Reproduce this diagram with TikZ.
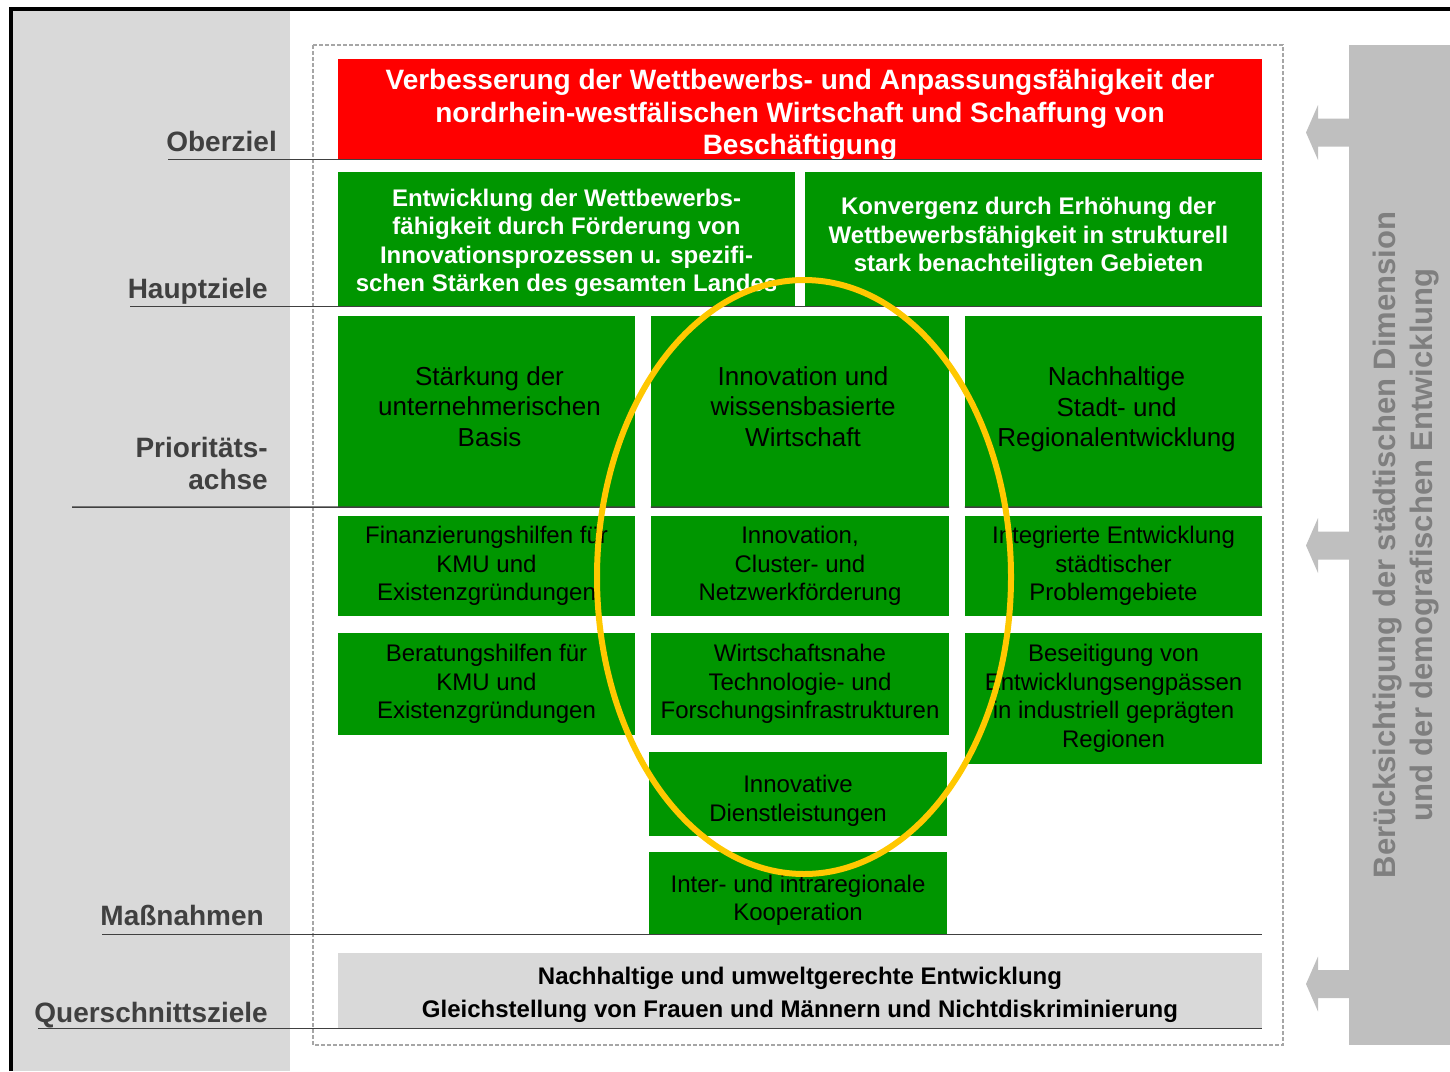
\documentclass[tikz,border=0pt]{standalone}
\usepackage{fontspec}
\setmainfont{Liberation Sans}

\definecolor{zielrot}{RGB}{255,0,0}
\definecolor{foerdergruen}{RGB}{0,150,0}
\definecolor{randgrau}{RGB}{217,217,217}
\definecolor{balkengrau}{RGB}{191,191,191}
\definecolor{schriftgrau}{RGB}{64,64,64}
\definecolor{hinweisgrau}{RGB}{127,127,127}
\definecolor{kreisgelb}{RGB}{255,200,0}

\tikzset{
  ebene/.style={font=\fontsize{28}{32}\selectfont\bfseries, text=schriftgrau, inner sep=0pt},
  trenn/.style={draw=schriftgrau, line width=1.5pt},
  kasten/.style={inner sep=0pt, align=center},
  oberbox/.style={kasten, fill=zielrot, text=white, minimum width=924pt, minimum height=100pt,
    font=\fontsize{28}{32.5}\selectfont\bfseries},
  hauptbox/.style={kasten, fill=foerdergruen, text=white, minimum width=457pt, minimum height=134pt,
    font=\fontsize{24}{28.5}\selectfont\bfseries},
  achsbox/.style={kasten, fill=foerdergruen, text=black, minimum width=297pt, minimum height=191pt,
    font=\fontsize{26}{30.5}\selectfont},
  massbox/.style={kasten, fill=foerdergruen, text=black, minimum width=297pt,
    font=\fontsize{24}{28.5}\selectfont},
  querbox/.style={kasten, fill=randgrau, text=black, minimum width=924pt, minimum height=75pt,
    font=\fontsize{24}{33}\selectfont\bfseries}
}

\begin{document}
\begin{tikzpicture}[x=1pt, y=-1pt]
  \useasboundingbox (0,0) rectangle (1450,1071);
  % hintergrund und rahmen
  \fill[randgrau] (12,11) rectangle (290,1071);
  \draw[line width=4pt] (10.5,1071) -- (10.5,9) -- (1450,9);
  \draw[draw=black!35, line width=1.5pt, dash pattern=on 4pt off 2pt] (313,45) rectangle (1283,1045);
  \fill[balkengrau] (1349,45) rectangle (1450,1045);
  \foreach \ay in {132.5,545.5,984}
    \fill[balkengrau] (1350,\ay-14) -- (1318,\ay-14) -- (1318,\ay-27.5) -- (1306,\ay)
      -- (1318,\ay+27.5) -- (1318,\ay+14) -- (1350,\ay+14) -- cycle;
  \node[rotate=90, align=center, text=hinweisgrau, font=\fontsize{31}{37}\selectfont\bfseries]
    (hinweis) at (1406,545) {Berücksichtigung der städtischen Dimension\\und der demografischen Entwicklung};

  % oberziel und hauptziele
  \node[oberbox] (ober) at (800,109) {};
  \node[oberbox, fill=none] at ([yshift=-6pt]ober.center) {Verbesserung der Wettbewerbs- und Anpassungsfähigkeit der\\
    nordrhein-westfälischen Wirtschaft und Schaffung von\\Beschäftigung};
  \node[hauptbox] (haupt1) at (566.5,239) {};
  \node[hauptbox, fill=none] at ([yshift=-4pt]haupt1.center) {Entwicklung der Wettbewerbs-\\fähigkeit durch Förderung von\\
    Innovationsprozessen u. spezifi-\\schen Stärken des gesamten Landes};
  \node[hauptbox] (haupt2) at (1033.5,239) {};
  \node[hauptbox, fill=none] at ([xshift=-5pt,yshift=2pt]haupt2.center) {Konvergenz durch Erhöhung der\\
    Wettbewerbsfähigkeit in strukturell\\stark benachteiligten Gebieten};

  % prioritaetsachsen
  \node[achsbox] (achse1) at (486.5,411.5) {};
  \node[achsbox, fill=none] at ([xshift=3pt,yshift=5pt]achse1.center) {Stärkung der\\unternehmerischen\\Basis};
  \node[achsbox, minimum width=298pt] (achse2) at (800,411.5) {};
  \node[achsbox, fill=none] at ([xshift=3pt,yshift=5pt]achse2.center) {Innovation und\\wissensbasierte\\Wirtschaft};
  \node[achsbox] (achse3) at (1113.5,411.5) {};
  \node[achsbox, fill=none] at ([xshift=3pt,yshift=2pt]achse3.center) {Nachhaltige\\Stadt- und\\Regionalentwicklung};

  % massnahmen
  \node[massbox, minimum height=100pt] (mass11) at (486.5,566) {Finanzierungshilfen für\\KMU und\\Existenzgründungen};
  \node[massbox, minimum height=102pt] (mass12) at (486.5,684) {Beratungshilfen für\\KMU und\\Existenzgründungen};
  \node[massbox, minimum width=298pt, minimum height=100pt] (mass21) at (800,566) {Innovation,\\Cluster- und\\Netzwerkförderung};
  \node[massbox, minimum width=298pt, minimum height=102pt] (mass22) at (800,684) {Wirtschaftsnahe\\Technologie- und\\Forschungsinfrastrukturen};
  \node[massbox, minimum width=298pt, minimum height=84pt] (mass23) at (798,794) {};
  \node[massbox, fill=none] at ([yshift=-7pt]mass23.center) {Innovative\\Dienstleistungen};
  \node[massbox, minimum width=298pt, minimum height=83pt] (mass24) at (798,893.5) {};
  \node[massbox, fill=none] at ([yshift=-7pt]mass24.center) {Inter- und intraregionale\\Kooperation};
  \node[massbox, minimum height=100pt] (mass31) at (1113.5,566) {Integrierte Entwicklung\\städtischer\\Problemgebiete};
  \node[massbox, minimum height=131pt] (mass32) at (1113.5,698.5) {Beseitigung von\\Entwicklungsengpässen\\in industriell geprägten\\Regionen};

  % querschnittsziele
  \node[querbox] (quer) at (800,990.5) {};
  \node[querbox, fill=none] at ([yshift=-4pt]quer.center) {Nachhaltige und umweltgerechte Entwicklung\\
    Gleichstellung von Frauen und Männern und Nichtdiskriminierung};

  % ebenen links
  \node[ebene, anchor=base east] (oberziel) at (277,151) {Oberziel};
  \node[ebene, anchor=base east] (hauptziele) at (268,298) {Hauptziele};
  \node[ebene, anchor=east, align=right] (achse) at (268,463) {Prioritäts-\\achse};
  \node[ebene, anchor=base east] (massnahmen) at (264,925) {Maßnahmen};
  \node[ebene, anchor=base east] (querziele) at (268,1022) {Querschnittsziele};
  \draw[trenn] (168,159.5) -- (1262,159.5);
  \draw[trenn] (130,306.5) -- (1262,306.5);
  \draw[trenn] (72,507) -- (achse1.south west) -- (achse1.south east)
    (achse2.south west) -- (achse2.south east) (achse3.south west) -- (achse3.south east);
  \draw[trenn] (102,934.5) -- (1262,934.5);
  \draw[trenn] (38,1028.5) -- (1262,1028.5);

  % markierung
  \draw[kreisgelb, line width=6pt] (804,577) ellipse [x radius=207pt, y radius=297pt];
\end{tikzpicture}
\end{document}
